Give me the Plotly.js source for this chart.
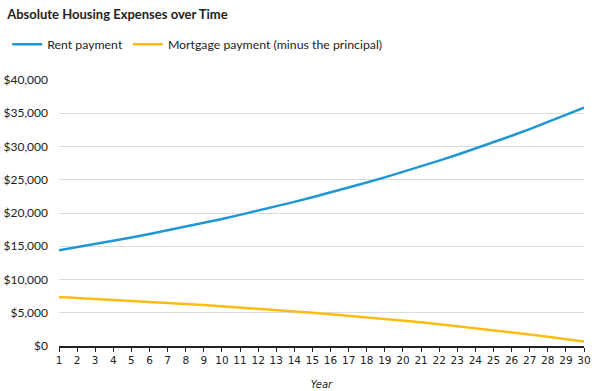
<!DOCTYPE html>
<html><head><meta charset="utf-8">
<script src="https://cdn.plot.ly/plotly-3.0.1.min.js"></script>
<style>html,body{margin:0;padding:0;background:#fff}#chart{width:598px;height:391px}</style>
</head><body><div id="chart"></div>
<script>
const years = [1,2,3,4,5,6,7,8,9,10,11,12,13,14,15,16,17,18,19,20,21,22,23,24,25,26,27,28,29,30];
const rentPayment = [14400,14860,15330,15820,16330,16850,17390,17940,18520,19110,19720,20350,21000,21670,22360,23080,23810,24580,25360,26170,27010,27870,28760,29680,30630,31610,32620,33660,34740,35850];
const mortgagePayment = [7350,7220,7085,6945,6800,6649,6492,6329,6160,5985,5803,5614,5418,5214,5003,4784,4556,4320,4075,3820,3556,3282,2997,2701,2394,2075,1744,1401,1045,675];
const yTickVals = [0,5000,10000,15000,20000,25000,30000,35000,40000];
const yTickText = ['$0','$5,000','$10,000','$15,000','$20,000','$25,000','$30,000','$35,000','$40,000'];

const traces = [
  {x: years, y: rentPayment, name: 'Rent payment', type: 'scatter', mode: 'lines', line: {color: '#1f97d5', width: 2.5}},
  {x: years, y: mortgagePayment, name: 'Mortgage payment (minus the principal)', type: 'scatter', mode: 'lines', line: {color: '#fbbc14', width: 2.5}}
];
const layout = {
  width: 598, height: 391,
  margin: {l: 59, r: 14, t: 80, b: 45},
  paper_bgcolor: '#fff', plot_bgcolor: '#fff',
  font: {family: 'Lato, sans-serif', color: '#222'},
  title: {text: '<b>Absolute Housing Expenses over Time</b>', x: 0.012, xref: 'container', xanchor: 'left', y: 0.975, yref: 'container', yanchor: 'top', font: {size: 13, family: 'Lato, sans-serif', color: '#222'}},
  showlegend: true,
  legend: {orientation: 'h', xref: 'container', yref: 'container', x: 0.012, xanchor: 'left', y: 0.887, yanchor: 'middle', font: {size: 12.3, family: 'Lato, sans-serif', color: '#222'}, itemwidth: 30, tracegroupgap: 0},
  xaxis: {range: [1, 30], tickvals: years, ticks: 'outside', ticklen: 4, tickcolor: '#222', showline: true, linecolor: '#222', linewidth: 1.5, showgrid: false, zeroline: false,
    tickfont: {family: 'DejaVu Sans, Verdana, sans-serif', size: 10.5, color: '#222'},
    title: {text: '<i>Year</i>', font: {family: 'DejaVu Sans, Verdana, sans-serif', size: 10, color: '#222'}, standoff: 16}},
  yaxis: {range: [0, 40000], tickvals: yTickVals, ticktext: yTickText, showgrid: true, gridcolor: '#dcdcdc', gridwidth: 1, zeroline: false, showline: false, ticks: '', ticklabelstandoff: 10,
    tickfont: {family: 'Lato, sans-serif', size: 12, color: '#222'}}
};
Plotly.newPlot('chart', traces, layout, {displayModeBar: false, responsive: false});
</script></body></html>
